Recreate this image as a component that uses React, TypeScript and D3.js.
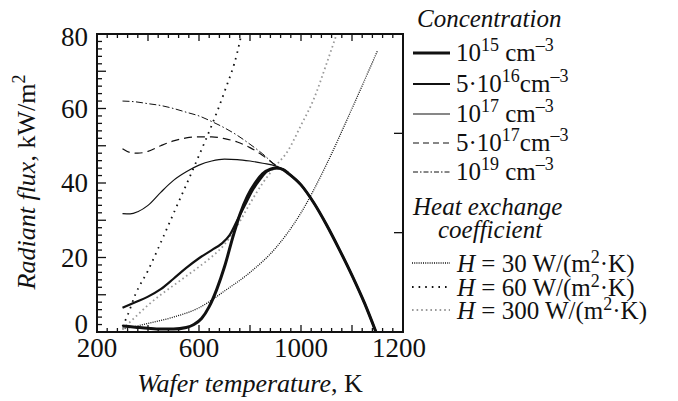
import React from "react";
import * as d3 from "d3";

// ---- data (temperature in K, radiant flux in kW/m^2) ----
const tail: [number, number][] = [
  [950, 42.6], [1000, 39.5], [1050, 34.7], [1100, 28.8], [1150, 22.2],
  [1200, 15.2], [1250, 7.6], [1294, 0],
];
const conc1e15: [number, number][] = [
  [300, 1.6], [350, 1.3], [400, 1.0], [450, 0.8], [500, 0.8], [550, 1.2], [580, 2.0],
  [610, 3.6], [640, 6.8], [670, 11.5], [700, 17.5], [735, 26], [760, 31.5], [790, 36.5],
  [820, 40], [850, 42.5], [880, 43.7], [905, 44], [930, 43.6],
];
const conc5e16: [number, number][] = [
  [300, 6.5], [350, 8], [400, 9.5], [450, 11.5], [500, 14.3], [550, 17.2], [600, 19.8],
  [650, 22], [690, 23.8], [720, 26], [750, 30], [780, 34], [810, 38], [840, 41],
  [870, 43.3], [905, 44], [930, 43.6],
];
const conc1e17: [number, number][] = [
  [300, 31.8], [330, 31.7], [360, 32.3], [400, 34], [450, 37.5], [500, 40.7], [550, 43],
  [600, 44.8], [650, 45.9], [700, 46.4], [750, 46.3], [800, 45.9], [850, 45.3], [900, 44.6],
  [930, 43.6],
];
const conc5e17: [number, number][] = [
  [300, 49.2], [330, 48.2], [360, 48.0], [400, 48.5], [450, 50], [500, 51.3], [550, 52.1],
  [600, 52.4], [650, 52.4], [700, 51.9], [750, 51], [800, 49.5], [850, 47.4], [900, 44.8],
  [930, 43.6],
];
const conc1e19: [number, number][] = [
  [300, 62], [350, 61.8], [400, 61.3], [450, 60.8], [500, 60], [550, 59], [600, 58],
  [650, 56.5], [700, 54.8], [750, 52.8], [800, 50.4], [850, 47.8], [900, 44.8], [930, 43.6],
];
const h30: [number, number][] = [
  [300, 0.8], [400, 2.3], [500, 4], [600, 6.5], [700, 11], [800, 16], [900, 22.5],
  [1000, 32], [1100, 45], [1200, 60], [1300, 75.5],
];
const h60: [number, number][] = [
  [300, 1.5], [320, 4.5], [350, 10], [400, 16.5], [450, 24], [500, 31.8], [550, 39.5],
  [600, 47.4], [650, 55.5], [700, 64.5], [750, 75], [765, 79.5],
];
const h300: [number, number][] = [
  [300, 0.8], [350, 4], [400, 7.2], [450, 10], [500, 12.5], [550, 15], [600, 17.5],
  [650, 20.2], [700, 23.5], [750, 28.5], [800, 34.5], [850, 40], [900, 44.5], [950, 48.8],
  [1000, 55.5], [1050, 62.5], [1100, 72], [1140, 80],
];

const xTickValues = [200, 600, 1000, 1400];
const xTickLabels = ["200", "600", "1000", "1200"];
const yTickValues = [0, 20, 40, 60, 80];

const concTitles = ["", "5·", "", "5·", ""];
const concExps = ["15", "16", "17", "17", "19"];
const hValues = ["30", "60", "300"];

const W = 678, H = 401;
const L = 97, R = 403, T = 34, B = 332;
const FS = { fontFamily: '"Liberation Serif"' };

export default function App() {
  const x = d3.scaleLinear().domain([200, 1400]).range([L, R]);
  const y = d3.scaleLinear().domain([0, 80]).range([B, T]);
  const yR = d3.scaleLinear().domain([0, 3]).range([B, T]);
  const line = d3.line<[number, number]>()
    .x((d) => x(d[0]))
    .y((d) => y(d[1]))
    .curve(d3.curveMonotoneX);

  const concSeries = [
    { data: conc1e15.concat(tail), w: 3, dash: "none" },
    { data: conc5e16.concat(tail), w: 2.2, dash: "none" },
    { data: conc1e17.concat(tail), w: 1.2, dash: "none" },
    { data: conc5e17.concat(tail), w: 1.2, dash: "8,5" },
    { data: conc1e19.concat(tail), w: 1, dash: "7,2.5,1.5,2.5" },
  ];
  const hSeries = [
    { data: h30, w: 1.3, dash: "1,1.2", color: "#111" },
    { data: h60, w: 1.8, dash: "1.6,5", color: "#111" },
    { data: h300, w: 1.8, dash: "1.6,3", color: "#9a9a9a" },
  ];

  const xMinor = d3.range(200, 1401, 40);
  const yMinor = d3.range(0, 81, 2);

  const concRowY = [53, 84, 114, 143, 172];
  const hRowY = [272, 296, 319];

  return (
    <svg width={W} height={H} style={{ position: "absolute", left: 0, top: 0, background: "#fff" }}>
      <defs>
        <clipPath id="plot">
          <rect x={L} y={T} width={R - L} height={B - T} />
        </clipPath>
      </defs>
      {/* curves */}
      <g clipPath="url(#plot)" fill="none">
        {hSeries.map((s, i) => (
          <path key={"h" + i} d={line(s.data) || ""} stroke={s.color} strokeWidth={s.w} strokeDasharray={s.dash} strokeLinecap="butt" />
        ))}
        {concSeries.map((s, i) => (
          <path key={"c" + i} d={line(s.data) || ""} stroke="#111" strokeWidth={s.w} strokeDasharray={s.dash} />
        ))}
      </g>
      {/* ticks */}
      <g stroke="#111" strokeWidth={1.3}>
        {xMinor.map((v) => {
          const major = (v - 200) % 200 === 0;
          const len = major ? 7 : 4;
          return (
            <g key={"xt" + v}>
              <line x1={x(v)} x2={x(v)} y1={B} y2={B - len} />
              <line x1={x(v)} x2={x(v)} y1={T} y2={T + len} />
            </g>
          );
        })}
        {yMinor.map((v) => {
          const major = v % 10 === 0;
          return <line key={"yt" + v} x1={L} x2={L + (major ? 9 : 5)} y1={y(v)} y2={y(v)} />;
        })}
        {[1, 2].map((v) => (
          <line key={"yr" + v} x1={R} x2={R - 9} y1={yR(v)} y2={yR(v)} />
        ))}
      </g>
      <rect x={L} y={T} width={R - L} height={B - T} fill="none" stroke="#111" strokeWidth={2} />
      {/* tick labels */}
      <g fontSize={27} fill="#111">
        {xTickValues.map((v, i) => (
          <text key={"xl" + v} style={FS} x={x(v) - (i === 3 ? 4 : 0)} y={357} textAnchor="middle">{xTickLabels[i]}</text>
        ))}
        {yTickValues.map((v) => (
          <text key={"yl" + v} style={FS} x={88} y={y(v) + (v === 0 ? -8 : v === 80 ? 3 : 0)} textAnchor="end" dominantBaseline="central">{v}</text>
        ))}
      </g>
      {/* axis titles */}
      <text style={FS} x={250} y={392} textAnchor="middle" fontSize={26} fill="#111">
        <tspan fontStyle="italic">Wafer temperature</tspan>, K
      </text>
      <text style={FS} transform={`translate(35,182) rotate(-90)`} textAnchor="middle" fontSize={26} fill="#111">
        <tspan fontStyle="italic">Radiant flux</tspan>, kW/m<tspan dy={-10} fontSize={18}>2</tspan>
      </text>
      {/* legend */}
      <text style={FS} x={417} y={27} fontSize={25} fontStyle="italic" fill="#111">Concentration</text>
      {concSeries.map((s, i) => (
        <g key={"lc" + i}>
          <line x1={413} x2={450} y1={concRowY[i]} y2={concRowY[i]} stroke="#111" strokeWidth={s.w}
            strokeDasharray={i === 3 ? "6,4" : i === 4 ? "5,2,1.5,2" : "none"} />
          <text style={FS} x={456} y={concRowY[i] + 8} fontSize={25} fill="#111">
            {concTitles[i]}10<tspan dy={-10} fontSize={18}>{concExps[i]}</tspan>
            <tspan dy={10}>{concTitles[i] ? "" : "\u00a0"}cm</tspan>
            <tspan dy={-10} fontSize={18}>–3</tspan>
          </text>
        </g>
      ))}
      <text style={FS} x={413} y={215} fontSize={25} fontStyle="italic" fill="#111">Heat exchange</text>
      <text style={FS} x={438} y={238} fontSize={25} fontStyle="italic" fill="#111">coefficient</text>
      {hSeries.map((s, i) => (
        <g key={"lh" + i}>
          <line x1={412} x2={450} y1={hRowY[i] - 9} y2={hRowY[i] - 9} stroke={s.color} strokeWidth={s.w} strokeDasharray={s.dash} />
          <text style={FS} x={457} y={hRowY[i]} fontSize={25} fill="#111">
            <tspan fontStyle="italic">H</tspan> = {hValues[i]} W/(m<tspan dy={-9} fontSize={18}>2</tspan>
            <tspan dy={9}>·K)</tspan>
          </text>
        </g>
      ))}
    </svg>
  );
}
